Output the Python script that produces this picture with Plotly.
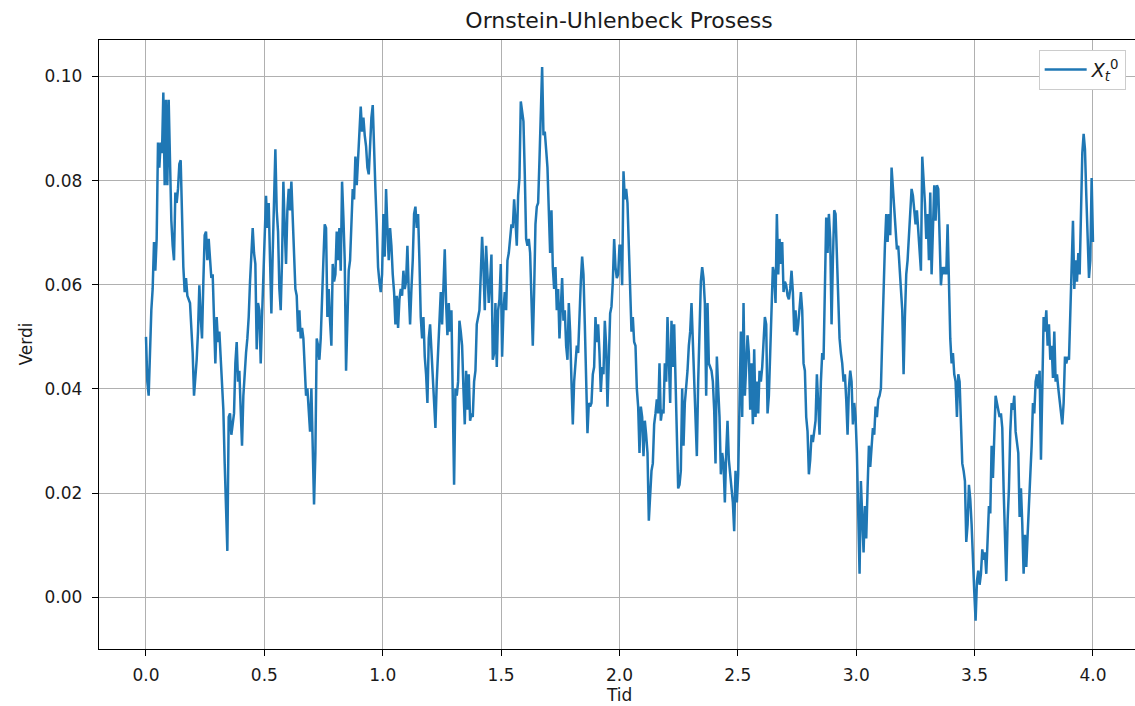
import numpy as np
import plotly.graph_objects as go

# Ornstein-Uhlenbeck sample path on [0, 4], sampled on a uniform time grid
T_END = 4.0

path_0 = [0.0500, 0.0414, 0.0387, 0.0483, 0.0551, 0.0592, 0.0682, 0.0627, 0.0688, 0.0873,
          0.0825, 0.0873, 0.0853, 0.0969, 0.0791, 0.0955, 0.0791, 0.0955, 0.0825, 0.0723,
          0.0675, 0.0647, 0.0777, 0.0757, 0.0784, 0.0832, 0.0839, 0.0723, 0.0634, 0.0586,
          0.0613, 0.0579, 0.0572, 0.0565, 0.0517, 0.0469, 0.0387, 0.0414, 0.0456, 0.0510,
          0.0599, 0.0538, 0.0497, 0.0606, 0.0695, 0.0702, 0.0647, 0.0688, 0.0640, 0.0613,
          0.0620, 0.0538, 0.0449, 0.0538, 0.0490, 0.0510, 0.0449, 0.0421, 0.0360, 0.0257,
          0.0168, 0.0089, 0.0346, 0.0353, 0.0312, 0.0332, 0.0353, 0.0449, 0.0490, 0.0414,
          0.0435, 0.0360, 0.0291, 0.0387, 0.0442, 0.0469, 0.0497, 0.0538, 0.0606, 0.0647,
          0.0709, 0.0661, 0.0640, 0.0476, 0.0565, 0.0551]

path_1 = [0.0449, 0.0538, 0.0620, 0.0668, 0.0771, 0.0709, 0.0757, 0.0647, 0.0545, 0.0661,
          0.0743, 0.0860, 0.0743, 0.0702, 0.0592, 0.0551, 0.0647, 0.0798, 0.0709, 0.0640,
          0.0743, 0.0784, 0.0743, 0.0798, 0.0729, 0.0647, 0.0592, 0.0579, 0.0510, 0.0551,
          0.0497, 0.0517, 0.0497, 0.0442, 0.0387, 0.0401, 0.0346, 0.0318, 0.0401, 0.0250,
          0.0178, 0.0277, 0.0497, 0.0483, 0.0456, 0.0497, 0.0592, 0.0647, 0.0716, 0.0709,
          0.0538, 0.0592, 0.0531, 0.0483, 0.0640, 0.0606, 0.0620, 0.0702, 0.0647, 0.0709,
          0.0627, 0.0798, 0.0729, 0.0647, 0.0435, 0.0551, 0.0627, 0.0647, 0.0702, 0.0784,
          0.0764, 0.0846, 0.0791, 0.0853, 0.0908, 0.0942, 0.0894, 0.0921, 0.0887, 0.0866,
          0.0825, 0.0812, 0.0866, 0.0921, 0.0945, 0.0839, 0.0784, 0.0716, 0.0634, 0.0606]

path_2 = [0.0586, 0.0620, 0.0736, 0.0654, 0.0784, 0.0709, 0.0647, 0.0709, 0.0675, 0.0620,
          0.0586, 0.0524, 0.0579, 0.0517, 0.0572, 0.0592, 0.0579, 0.0627, 0.0592, 0.0606,
          0.0675, 0.0586, 0.0524, 0.0592, 0.0647, 0.0736, 0.0750, 0.0709, 0.0736, 0.0647,
          0.0538, 0.0497, 0.0538, 0.0462, 0.0428, 0.0373, 0.0497, 0.0524, 0.0469, 0.0414,
          0.0380, 0.0325, 0.0414, 0.0469, 0.0524, 0.0586, 0.0524, 0.0606, 0.0668, 0.0565,
          0.0503, 0.0565, 0.0510, 0.0551, 0.0346, 0.0216, 0.0401, 0.0387, 0.0414, 0.0531,
          0.0510, 0.0483, 0.0401, 0.0332, 0.0435, 0.0360, 0.0428, 0.0339, 0.0353, 0.0346,
          0.0414, 0.0435, 0.0524, 0.0538, 0.0551, 0.0620, 0.0692, 0.0634, 0.0551, 0.0675,
          0.0620, 0.0565, 0.0606, 0.0658, 0.0456, 0.0469, 0.0565, 0.0442, 0.0551, 0.0572]

path_3 = [0.0640, 0.0462, 0.0551, 0.0586, 0.0551, 0.0647, 0.0661, 0.0695, 0.0716, 0.0709,
          0.0764, 0.0723, 0.0675, 0.0771, 0.0805, 0.0952, 0.0928, 0.0914, 0.0812, 0.0688,
          0.0675, 0.0688, 0.0661, 0.0586, 0.0483, 0.0586, 0.0716, 0.0750, 0.0757, 0.0839,
          0.0942, 0.1018, 0.0887, 0.0894, 0.0860, 0.0825, 0.0743, 0.0661, 0.0743, 0.0634,
          0.0592, 0.0634, 0.0551, 0.0592, 0.0497, 0.0551, 0.0613, 0.0531, 0.0551, 0.0483,
          0.0456, 0.0565, 0.0510, 0.0414, 0.0332, 0.0414, 0.0456, 0.0483, 0.0469, 0.0551,
          0.0606, 0.0654, 0.0620, 0.0524, 0.0428, 0.0315, 0.0373, 0.0366, 0.0373, 0.0428,
          0.0442, 0.0538, 0.0490, 0.0524, 0.0469, 0.0394, 0.0442, 0.0428, 0.0531, 0.0483,
          0.0366, 0.0476, 0.0545, 0.0558, 0.0606, 0.0688, 0.0634, 0.0613, 0.0620, 0.0675]

path_4 = [0.0675, 0.0599, 0.0818, 0.0764, 0.0784, 0.0757, 0.0675, 0.0551, 0.0510, 0.0538,
          0.0490, 0.0483, 0.0401, 0.0366, 0.0277, 0.0366, 0.0346, 0.0271, 0.0339, 0.0312,
          0.0277, 0.0147, 0.0188, 0.0243, 0.0257, 0.0332, 0.0353, 0.0380, 0.0353, 0.0449,
          0.0339, 0.0360, 0.0353, 0.0449, 0.0414, 0.0538, 0.0456, 0.0373, 0.0531, 0.0442,
          0.0524, 0.0401, 0.0312, 0.0209, 0.0216, 0.0243, 0.0401, 0.0291, 0.0373, 0.0401,
          0.0435, 0.0483, 0.0510, 0.0565, 0.0483, 0.0408, 0.0332, 0.0271, 0.0414, 0.0510,
          0.0606, 0.0634, 0.0613, 0.0565, 0.0387, 0.0565, 0.0449, 0.0442, 0.0435, 0.0414,
          0.0360, 0.0257, 0.0462, 0.0401, 0.0346, 0.0236, 0.0277, 0.0257, 0.0182, 0.0277,
          0.0339, 0.0264, 0.0229, 0.0209, 0.0182, 0.0127, 0.0243, 0.0182, 0.0236, 0.0346]

path_5 = [0.0510, 0.0346, 0.0565, 0.0387, 0.0456, 0.0503, 0.0469, 0.0360, 0.0449, 0.0332,
          0.0476, 0.0346, 0.0414, 0.0353, 0.0435, 0.0414, 0.0442, 0.0483, 0.0538, 0.0524,
          0.0353, 0.0387, 0.0483, 0.0565, 0.0634, 0.0620, 0.0565, 0.0736, 0.0620, 0.0688,
          0.0640, 0.0682, 0.0586, 0.0606, 0.0599, 0.0579, 0.0572, 0.0592, 0.0627, 0.0586,
          0.0510, 0.0551, 0.0503, 0.0524, 0.0565, 0.0586, 0.0551, 0.0449, 0.0435, 0.0346,
          0.0318, 0.0236, 0.0264, 0.0312, 0.0298, 0.0325, 0.0339, 0.0428, 0.0380, 0.0312,
          0.0414, 0.0469, 0.0456, 0.0592, 0.0729, 0.0661, 0.0736, 0.0688, 0.0524, 0.0647,
          0.0743, 0.0736, 0.0647, 0.0579, 0.0497, 0.0469, 0.0449, 0.0414, 0.0428, 0.0380,
          0.0312, 0.0401, 0.0435, 0.0414, 0.0332, 0.0373, 0.0346, 0.0277, 0.0154, 0.0045]

path_6 = [0.0223, 0.0168, 0.0086, 0.0175, 0.0113, 0.0209, 0.0291, 0.0250, 0.0298, 0.0325,
          0.0312, 0.0366, 0.0346, 0.0380, 0.0387, 0.0401, 0.0497, 0.0620, 0.0675, 0.0736,
          0.0682, 0.0736, 0.0695, 0.0825, 0.0784, 0.0743, 0.0723, 0.0668, 0.0675, 0.0620,
          0.0592, 0.0551, 0.0428, 0.0538, 0.0620, 0.0647, 0.0702, 0.0736, 0.0784, 0.0771,
          0.0743, 0.0716, 0.0743, 0.0702, 0.0675, 0.0627, 0.0846, 0.0805, 0.0757, 0.0688,
          0.0736, 0.0647, 0.0777, 0.0620, 0.0702, 0.0791, 0.0723, 0.0791, 0.0784, 0.0688,
          0.0599, 0.0634, 0.0620, 0.0634, 0.0620, 0.0716, 0.0586, 0.0497, 0.0449, 0.0469,
          0.0428, 0.0414, 0.0346, 0.0428, 0.0414, 0.0312, 0.0257, 0.0243, 0.0223, 0.0106,
          0.0140, 0.0216, 0.0188, 0.0140, 0.0058, 0.0010, -0.0045, 0.0031, 0.0051, 0.0024]

path_7 = [0.0045, 0.0092, 0.0072, 0.0086, 0.0045, 0.0127, 0.0175, 0.0161, 0.0291, 0.0229,
          0.0305, 0.0387, 0.0373, 0.0360, 0.0346, 0.0353, 0.0325, 0.0209, 0.0086, 0.0031,
          0.0147, 0.0209, 0.0318, 0.0373, 0.0360, 0.0387, 0.0318, 0.0291, 0.0277, 0.0154,
          0.0209, 0.0140, 0.0045, 0.0120, 0.0058, 0.0120, 0.0175, 0.0250, 0.0291, 0.0373,
          0.0353, 0.0414, 0.0428, 0.0401, 0.0435, 0.0264, 0.0401, 0.0538, 0.0510, 0.0551,
          0.0483, 0.0524, 0.0456, 0.0483, 0.0421, 0.0510, 0.0414, 0.0428, 0.0401, 0.0373,
          0.0346, 0.0332, 0.0373, 0.0462, 0.0449, 0.0462, 0.0456, 0.0538, 0.0613, 0.0723,
          0.0592, 0.0647, 0.0606, 0.0661, 0.0620, 0.0757, 0.0853, 0.0890, 0.0860, 0.0771,
          0.0688, 0.0613, 0.0647, 0.0805, 0.0682]

x_values = np.array(path_0 + path_1 + path_2 + path_3 + path_4 + path_5 + path_6 + path_7)
t_values = np.linspace(0.0, T_END, len(x_values))

X_TICKS = [0.0, 0.5, 1.0, 1.5, 2.0, 2.5, 3.0, 3.5, 4.0]
Y_TICKS = [0.00, 0.02, 0.04, 0.06, 0.08, 0.10]

FONT = "DejaVu Sans"
TEXT_COLOR = "#1a1a1a"

fig = go.Figure()
fig.add_trace(go.Scatter(
    x=t_values, y=x_values, mode="lines",
    name="<i>X</i><sub><i>t</i></sub><sup>0</sup>",
    line=dict(color="#1f77b4", width=2.5),
))

axis_common = dict(
    showgrid=True, gridcolor="#b0b0b0", gridwidth=1.2,
    showline=True, linecolor="black", linewidth=1.4,
    ticks="outside", ticklen=6, tickwidth=1.4, tickcolor="black",
    tickfont=dict(family=FONT, size=17, color=TEXT_COLOR),
    zeroline=False,
)

fig.update_layout(
    width=1135, height=706,
    margin=dict(l=99, r=0, t=40, b=57),
    paper_bgcolor="white", plot_bgcolor="white",
    title=dict(text="Ornstein-Uhlenbeck Prosess", x=619 / 1135, xanchor="center",
               y=1 - 20 / 706, yanchor="middle", yref="container",
               font=dict(family=FONT, size=22, color=TEXT_COLOR)),
    xaxis=dict(range=[-0.1985, 4.1775], tickvals=X_TICKS,
               ticktext=[f"{v:.1f}" for v in X_TICKS], mirror=True,
               ticklabelstandoff=4, **axis_common),
    yaxis=dict(range=[-0.00994, 0.1070], tickvals=Y_TICKS,
               ticktext=[f"{v:.2f}" for v in Y_TICKS], mirror=False,
               ticklabelstandoff=6, **axis_common),
    showlegend=True,
    legend=dict(x=0.991, xanchor="right", y=0.984, yanchor="top",
                bgcolor="white", bordercolor="#cccccc", borderwidth=1,
                itemwidth=42, valign="middle",
                font=dict(family=FONT, size=19, color=TEXT_COLOR)),
    annotations=[
        dict(text="Tid", xref="paper", yref="paper", x=(619 - 99) / 1036, y=-(695 - 649) / 609,
             xanchor="center", yanchor="middle", showarrow=False,
             font=dict(family=FONT, size=17, color=TEXT_COLOR)),
        dict(text="Verdi", xref="paper", yref="paper", x=-(99 - 25) / 1036, y=0.5,
             xanchor="center", yanchor="middle", textangle=-90, showarrow=False,
             font=dict(family=FONT, size=17, color=TEXT_COLOR)),
    ],
)

fig.write_html("out.html")
